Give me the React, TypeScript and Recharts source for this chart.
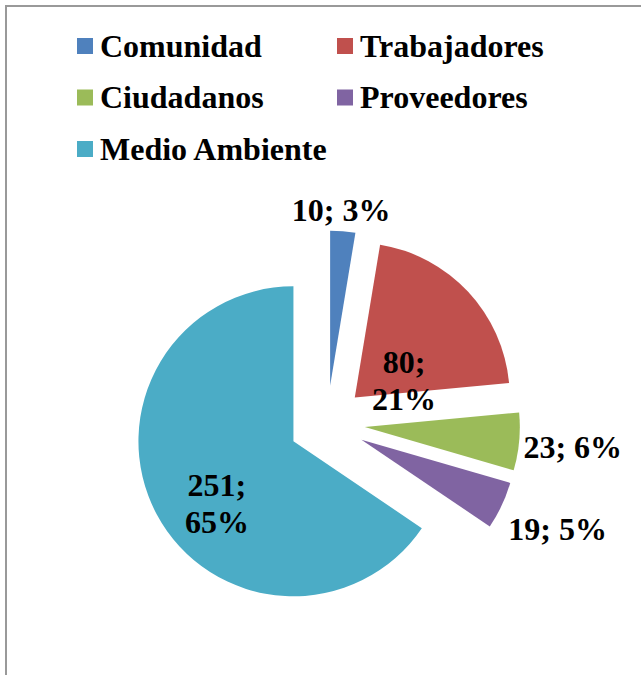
import { PieChart, Pie, Sector } from "recharts"

const CATEGORIES = ["Comunidad", "Trabajadores", "Ciudadanos", "Proveedores", "Medio Ambiente"]
const VALUES = [10, 80, 23, 19, 251]
const PCT_LABELS = ["3%", "21%", "6%", "5%", "65%"]
const COLORS = ["#4F81BD", "#C0504D", "#9BBB59", "#8064A2", "#4BACC6"]

// label placement around each exploded slice: radius from slice centre, angle shift (deg, clockwise), two lines?
const LABEL_POS = [
    { r: 175, shift: -1.1, split: false },
    { r: 52, shift: 24.4, split: true },
    { r: 209, shift: 0.3, split: false },
    { r: 216, shift: -0.45, split: false },
    { r: 99, shift: -11.4, split: true },
]

const RAD = Math.PI / 180
const EXPLODE = 38
const FONT = "'Liberation Serif', 'Times New Roman', serif"
const FS = 32

const data = CATEGORIES.map((name, i) => ({ name, value: VALUES[i], fill: COLORS[i] }))

function shift(cx: number, cy: number, angle: number, dist: number) {
    return { x: cx + dist * Math.cos(-angle * RAD), y: cy + dist * Math.sin(-angle * RAD) }
}

function ExplodedSlice(props: any) {
    const c = shift(props.cx, props.cy, props.midAngle, EXPLODE)
    return <Sector {...props} cx={c.x} cy={c.y} stroke="none" />
}

function SliceLabel(props: any) {
    const { cx, cy, midAngle, index, value } = props
    const c = shift(cx, cy, midAngle, EXPLODE)
    const pos = LABEL_POS[index]
    const p = shift(c.x, c.y, midAngle - pos.shift, pos.r)
    const common = { textAnchor: "middle" as const, fontFamily: FONT, fontWeight: "bold", fontSize: FS, fill: "#000" }
    if (pos.split) {
        return (
            <text x={p.x} {...common}>
                <tspan x={p.x} y={p.y - 18.5 + 10.5}>{value};</tspan>
                <tspan x={p.x} y={p.y + 18.5 + 10.5}>{PCT_LABELS[index]}</tspan>
            </text>
        )
    }
    return (
        <text x={p.x} y={p.y + 10.5} {...common}>
            {value}; {PCT_LABELS[index]}
        </text>
    )
}

function LegendBox() {
    return (
        <svg width={641} height={175} style={{ position: "absolute", left: 0, top: 0 }}>
            {CATEGORIES.map((name, i) => {
                const col = i % 2
                const row = Math.floor(i / 2)
                const x = col === 0 ? 77 : 337
                const y = 38 + row * 51.5
                return (
                    <g key={name}>
                        <rect x={x} y={y} width={16} height={16} fill={COLORS[i]} />
                        <text x={x + 23} y={y + 18.7} fontFamily={FONT} fontWeight="bold" fontSize={FS} fill="#000">
                            {name}
                        </text>
                    </g>
                )
            })}
        </svg>
    )
}

export default function App() {
    return (
        <div style={{ position: "absolute", left: 0, top: 0, width: 641, height: 675, background: "#fff", overflow: "hidden" }}>
            <div style={{ position: "absolute", left: 5, top: 5, width: 700, height: 700, borderLeft: "2px solid #999", borderTop: "2px solid #999" }} />
            <div style={{ position: "absolute", left: 0, top: 0 }}>
                <PieChart width={641} height={675} margin={{ top: 0, right: 0, bottom: 0, left: 0 }}>
                    <Pie
                        data={data}
                        dataKey="value"
                        nameKey="name"
                        cx={327}
                        cy={423.5}
                        outerRadius={155}
                        startAngle={90}
                        endAngle={-270}
                        stroke="none"
                        shape={ExplodedSlice}
                        label={SliceLabel}
                        labelLine={false}
                        isAnimationActive={false}
                    />
                </PieChart>
            </div>
            <LegendBox />
        </div>
    )
}
